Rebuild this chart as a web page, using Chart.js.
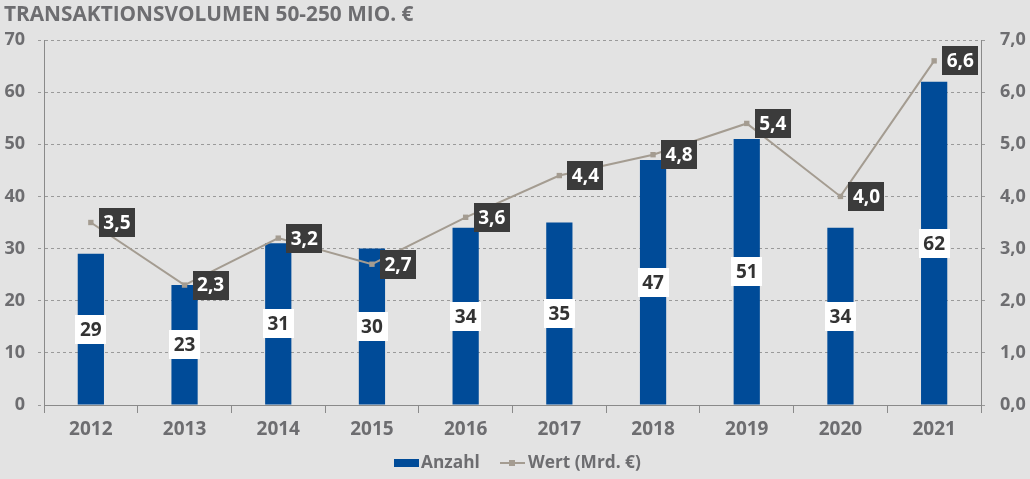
<!DOCTYPE html>
<html>
<head>
<meta charset="utf-8">
<script src="https://cdn.jsdelivr.net/npm/chart.js@4.4.1/dist/chart.umd.min.js"></script>
<style>
html,body{margin:0;padding:0;background:#e3e3e3;}
#wrap{width:1030px;height:479px;position:relative;}
</style>
</head>
<body>
<div id="wrap"><canvas id="c" width="1030" height="479"></canvas></div>
<script>
const categories = ['2012','2013','2014','2015','2016','2017','2018','2019','2020','2021'];
const anzahl = [29,23,31,30,34,35,47,51,34,62];
const wert = [3.5,2.3,3.2,2.7,3.6,4.4,4.8,5.4,4.0,6.6];
const leftTicks = [0,10,20,30,40,50,60,70];
const rightTicks = [0,1,2,3,4,5,6,7];
const titleText = 'TRANSAKTIONSVOLUMEN 50-250 MIO. €';
const seriesNames = ['Anzahl','Wert (Mrd. €)'];

const FONT = "'Open Sans', 'Noto Sans', sans-serif";
const GREY = '#6d6d70';
const BLUE = '#004b98';
const LINEC = '#a49c91';

const fmt = v => v.toFixed(1).replace('.', ',');

const labelPlugin = {
  id: 'labelsAndDecor',
  beforeDraw(chart) {
    const ctx = chart.ctx;
    ctx.save();
    ctx.fillStyle = '#e3e3e3';
    ctx.fillRect(0, 0, chart.width, chart.height);
    ctx.fillStyle = GREY;
    ctx.font = 'bold 20.8px ' + FONT;
    ctx.textBaseline = 'alphabetic';
    ctx.textAlign = 'left';
    ctx.fillText(titleText, 4, 21);
    ctx.restore();
  },
  afterDatasetsDraw(chart) {
    const ctx = chart.ctx;
    ctx.save();
    ctx.font = 'bold 19px ' + FONT;
    ctx.textBaseline = 'middle';
    ctx.textAlign = 'center';
    // bar labels
    const bm = chart.getDatasetMeta(0);
    bm.data.forEach((el, i) => {
      const t = String(anzahl[i]);
      const w = ctx.measureText(t).width + 9;
      const h = 29;
      const cy = (el.y + el.base) / 2;
      ctx.fillStyle = '#ffffff';
      ctx.fillRect(Math.round(el.x - w / 2), Math.round(cy - h / 2), Math.round(w), h);
      ctx.fillStyle = '#333333';
      ctx.fillText(t, el.x, cy + 1);
    });
    // line labels
    const lm = chart.getDatasetMeta(1);
    lm.data.forEach((el, i) => {
      const t = fmt(wert[i]);
      const w = ctx.measureText(t).width + 9;
      const h = 29;
      const x0 = el.x + 8;
      ctx.fillStyle = '#3b3b3b';
      ctx.fillRect(Math.round(x0), Math.round(el.y - h / 2), Math.round(w), h);
      ctx.fillStyle = '#ffffff';
      ctx.fillText(t, x0 + w / 2, el.y + 1);
    });
    ctx.restore();
  },
  afterDraw(chart) {
    const ctx = chart.ctx;
    ctx.save();
    const y = 463;
    ctx.font = 'bold 17.3px ' + FONT;
    ctx.textBaseline = 'middle';
    ctx.textAlign = 'left';
    ctx.fillStyle = BLUE;
    ctx.fillRect(394, y - 4, 25, 8);
    ctx.fillStyle = GREY;
    ctx.fillText(seriesNames[0], 421, y);
    ctx.strokeStyle = LINEC;
    ctx.lineWidth = 2;
    ctx.beginPath();
    ctx.moveTo(500, y); ctx.lineTo(525, y); ctx.stroke();
    ctx.fillStyle = LINEC;
    ctx.fillRect(509, y - 3, 6, 6);
    ctx.fillStyle = GREY;
    ctx.fillText(seriesNames[1], 528, y);
    ctx.restore();
  }
};

new Chart(document.getElementById('c'), {
  data: {
    labels: categories,
    datasets: [
      {
        type: 'bar', label: seriesNames[0], data: anzahl, yAxisID: 'y',
        backgroundColor: BLUE, barPercentage: 0.28, categoryPercentage: 1, order: 2
      },
      {
        type: 'line', label: seriesNames[1], data: wert, yAxisID: 'y1',
        borderColor: LINEC, borderWidth: 2, backgroundColor: LINEC,
        pointStyle: 'rect', pointRadius: 3.8, pointBackgroundColor: LINEC, pointBorderWidth: 0,
        tension: 0, order: 1
      }
    ]
  },
  options: {
    responsive: false,
    animation: false,
    devicePixelRatio: 1,
    layout: { padding: { top: 40, left: 0, right: 0, bottom: 0 } },
    plugins: { legend: { display: false }, title: { display: false }, tooltip: { enabled: false } },
    scales: {
      x: {
        offset: true,
        grid: { display: true, offset: true, drawOnChartArea: false, drawTicks: true, tickLength: 8, color: '#8a8a8a' },
        border: { display: true, color: '#8a8a8a', width: 1 },
        ticks: { color: GREY, font: { family: FONT, size: 19, weight: 'bold' }, padding: 5, maxRotation: 0 },
        afterFit(s) { s.height = 74; }
      },
      y: {
        position: 'left', min: 0, max: 70,
        afterBuildTicks(s) { s.ticks = leftTicks.map(v => ({ value: v })); },
        grid: { color: '#9a9a9a', tickLength: 6, drawTicks: true, tickColor: '#9a9a9a', tickBorderDash: [3, 3] },
        border: { display: true, color: '#8a8a8a', width: 1, dash: [3, 3] },
        ticks: { color: GREY, font: { family: FONT, size: 18, weight: 'bold' }, padding: 13 },
        afterFit(s) { s.width = 44; }
      },
      y1: {
        position: 'right', min: 0, max: 7,
        afterBuildTicks(s) { s.ticks = rightTicks.map(v => ({ value: v })); },
        grid: { drawOnChartArea: false, color: '#9a9a9a', tickLength: 6, tickBorderDash: [3, 3] },
        border: { display: true, color: '#8a8a8a', width: 1 },
        ticks: { color: GREY, font: { family: FONT, size: 18, weight: 'bold' }, padding: 13, callback: v => fmt(v) },
        afterFit(s) { s.width = 49; }
      }
    }
  },
  plugins: [labelPlugin]
});
</script>
</body>
</html>
